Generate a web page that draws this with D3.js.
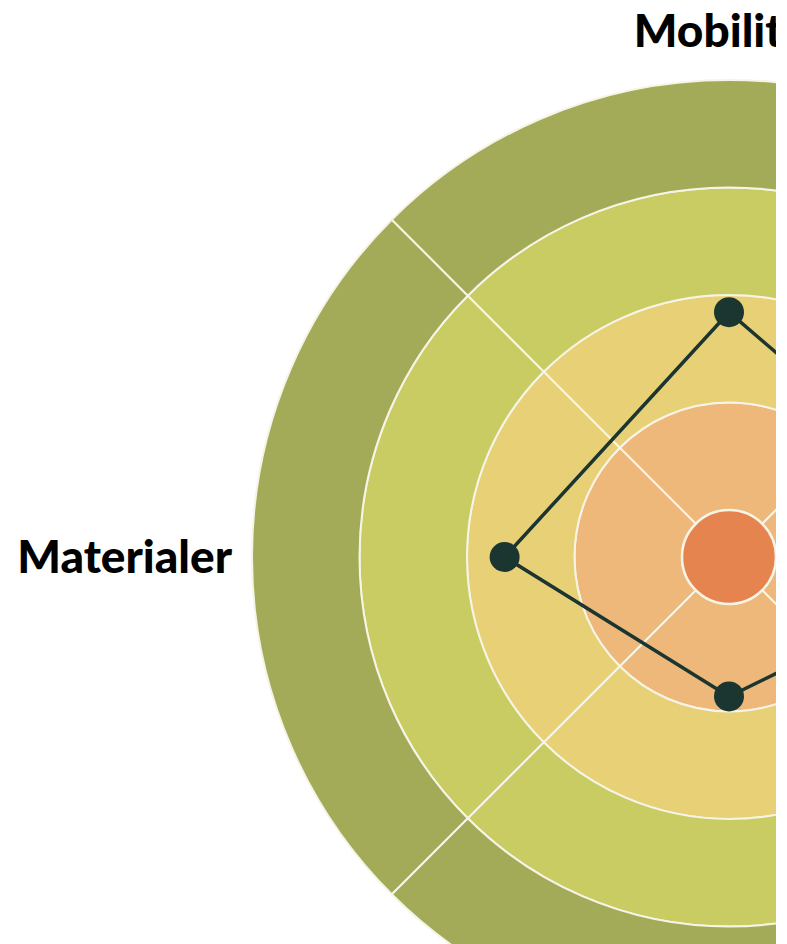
<!DOCTYPE html>
<html>
<head>
<meta charset="utf-8">
<script src="https://cdn.jsdelivr.net/npm/d3@7"></script>
<style>
  body { margin: 0; background: #fff; }
  svg { display: block; overflow: hidden; }
  .label { font-family: Lato, "Open Sans", sans-serif; font-weight: 900; font-size: 46px; fill: #000; }
</style>
</head>
<body>
<script>
// categories clockwise from top
const categories = ["Mobilitet", "Energi", "Affald", "Materialer"];
const values = [1.84, 2.22, 0.86, 1.65];
// ring levels (0 = inner circle edge, 4 = outer edge)
const levels = [0, 1, 2, 3, 4];
const ringColors = ["#efb87b", "#e8d077", "#c8cc63", "#a3aa58"];
const coreColor = "#e6844f";

const width = 776, height = 944;
const cx = 729, cy = 557;

let svg = d3.select("body").append("svg")
  .attr("width", width).attr("height", height);
let g = svg.append("g").attr("transform", `translate(${cx},${cy})`);

let r = d3.scaleLinear().domain([0, 4]).range([47, 477]);
let angle = d3.scaleBand().domain(categories).range([0, 2 * Math.PI]);

let arc = d3.arc();

// ring segments, one per category, centred on each axis
levels.slice(0, -1).forEach((lv, i) => {
  categories.forEach(c => {
    let a = angle(c);
    g.append("path")
      .attr("d", arc({
        innerRadius: r(lv), outerRadius: r(levels[i + 1]),
        startAngle: a - Math.PI / 4, endAngle: a + Math.PI / 4
      }))
      .attr("fill", ringColors[i])
      .attr("stroke", "#f6f4e6")
      .attr("stroke-width", 2);
  });
});

g.append("circle")
  .attr("r", r(0))
  .attr("fill", coreColor)
  .attr("stroke", "#f6f4e6")
  .attr("stroke-width", 2.5);

// data shape
let pts = categories.map((c, i) => {
  let a = angle(c);
  return [Math.sin(a) * r(values[i]), -Math.cos(a) * r(values[i])];
});

g.append("path")
  .attr("d", d3.line().curve(d3.curveLinearClosed)(pts))
  .attr("fill", "none")
  .attr("stroke", "#1b3530")
  .attr("stroke-width", 3.5);

g.selectAll(".dot").data(pts).join("circle")
  .attr("class", "dot")
  .attr("cx", d => d[0]).attr("cy", d => d[1])
  .attr("r", 15)
  .attr("fill", "#1b3530");

// labels
let labelR = r(4) + 20;
g.selectAll(".label").data(categories).join("text")
  .attr("class", "label")
  .attr("x", c => Math.sin(angle(c)) * labelR)
  .attr("y", c => -Math.cos(angle(c)) * labelR)
  .attr("text-anchor", c => {
    let s = Math.round(Math.sin(angle(c)) * 100);
    return s > 0 ? "start" : s < 0 ? "end" : "middle";
  })
  .attr("dy", c => {
    let k = Math.round(-Math.cos(angle(c)) * 100);
    return k < 0 ? -13 : k > 0 ? 36 : 16;
  })
  .text(c => c);
</script>
</body>
</html>
